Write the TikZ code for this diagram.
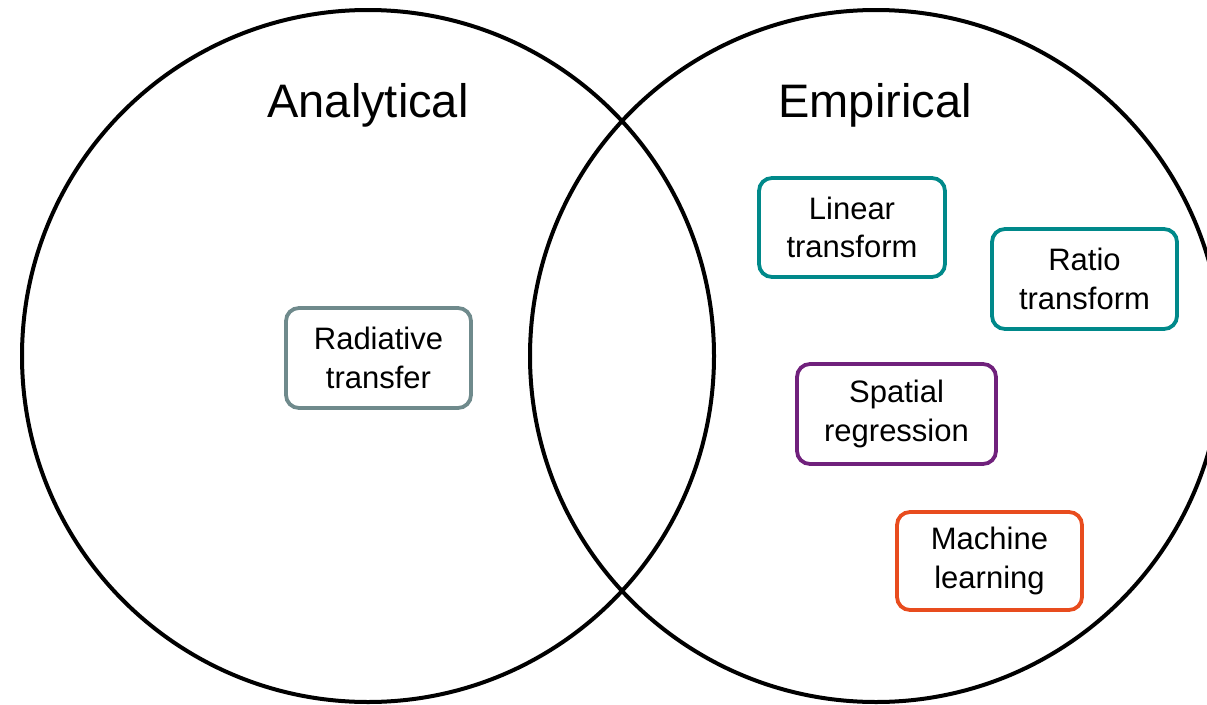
\documentclass[tikz,border=0pt]{standalone}
\usepackage{fontspec}
\setmainfont{Liberation Sans}
\definecolor{rtgray}{RGB}{111,138,140}
\definecolor{teal}{RGB}{0,137,138}
\definecolor{purp}{RGB}{112,33,124}
\definecolor{orng}{RGB}{232,76,30}
\begin{document}
\begin{tikzpicture}[x=1pt,y=-1pt,
  setcircle/.style={draw=black,line width=4pt},
  title/.style={font=\fontsize{47}{56}\selectfont,anchor=base},
  method/.style={draw,line width=3.8pt,rounded corners=13pt,fill=white,
    align=center,inner sep=0pt,font=\fontsize{31}{38.5}\selectfont},
]
\useasboundingbox (0,0) rectangle (1207,704);
\clip (0,0) rectangle (1207,704);
% the two overlapping sets
\draw[setcircle] (368,356) circle (346);
\draw[setcircle] (876,356) circle (346);
% set names
\node[title] (an) at (368,117) {Analytical};
\node[title] (em) at (875,117) {Empirical};
% methods
\node[method,draw=rtgray,minimum width=185,minimum height=100] (rt) at (378.5,358) {Radiative\\transfer};
\node[method,draw=teal,minimum width=186,minimum height=99] (lt) at (852,227.5) {Linear\\transform};
\node[method,draw=teal,minimum width=185,minimum height=100] (ratio) at (1084.5,279) {Ratio\\transform};
\node[method,draw=purp,minimum width=199,minimum height=100] (sr) at (896.5,414) {Spatial\\regression};
\node[method,draw=orng,minimum width=185,minimum height=98] (ml) at (989.5,561) {Machine\\learning};
\end{tikzpicture}
\end{document}
